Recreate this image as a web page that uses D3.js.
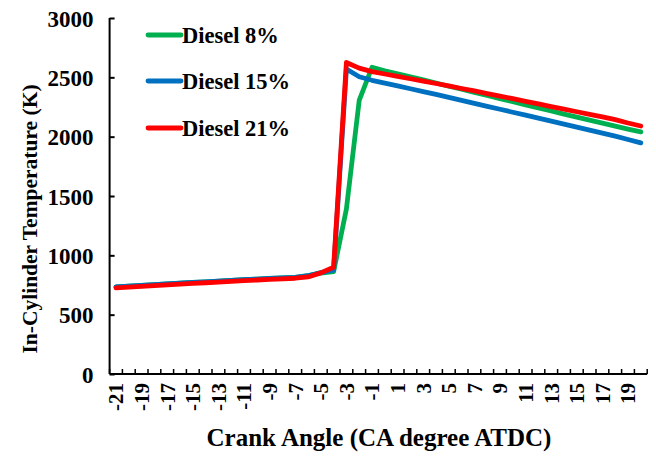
<!DOCTYPE html>
<html>
<head>
<meta charset="utf-8">
<script src="https://cdn.jsdelivr.net/npm/d3@7"></script>
<style>
body{margin:0;background:#fff;}
svg{display:block;}
text{font-family:"Liberation Serif","Times New Roman",serif;font-weight:bold;fill:#000;}
</style>
</head>
<body>
<svg id="chart" width="656" height="456"></svg>
<script>
const crankAngles = d3.range(-21, 21);
const yTicks = [0, 500, 1000, 1500, 2000, 2500, 3000];
const xTickLabels = [-21,-19,-17,-15,-13,-11,-9,-7,-5,-3,-1,1,3,5,7,9,11,13,15,17,19];
const seriesNames = ["Diesel 8%", "Diesel 15%", "Diesel 21%"];
const diesel8 = [735,741,747,753,759,765,771,777,783,789,795,800,805,810,815,830,850,862,1390,2305,2585,2555,2530,2505,2478,2452,2425,2400,2373,2347,2320,2295,2268,2242,2216,2190,2165,2140,2114,2089,2064,2040];
const diesel15 = [735,741,747,753,759,765,771,777,783,789,795,800,805,810,815,828,855,875,2570,2505,2475,2452,2428,2404,2380,2356,2331,2306,2281,2256,2231,2206,2181,2156,2131,2106,2080,2055,2030,2004,1976,1948];
const diesel21 = [725,732,739,745,751,757,763,769,775,781,787,792,797,802,807,818,852,900,2625,2578,2548,2528,2508,2488,2468,2448,2428,2406,2385,2363,2342,2320,2298,2276,2254,2232,2210,2188,2166,2143,2115,2090];
const colors = ["#00B050", "#0070C0", "#FF0000"];

const svg = d3.select("#chart");
const pLeft = 109.6, pRight = 647.2, pTop = 18, pBottom = 374;

const x = d3.scaleBand().domain(crankAngles).range([pLeft, pRight]);
const y = d3.scaleLinear().domain([0, 3000]).range([pBottom, pTop]);

// Y axis
const yAxis = svg.append("g").attr("transform", `translate(${pLeft},0)`)
  .call(d3.axisRight(y).tickValues(yTicks).tickSize(5).tickFormat(d3.format("d")));
yAxis.select(".domain").attr("stroke", "#000").attr("stroke-width", 2).attr("d", `M0,${pTop}V${pBottom}`);
yAxis.selectAll(".tick line").attr("stroke", "#000").attr("stroke-width", 2);
yAxis.selectAll(".tick text").attr("x", -16).attr("text-anchor", "end").attr("dy", "0.35em")
  .style("font-size", "23px");

// X axis
const xAxis = svg.append("g").attr("transform", `translate(0,${pBottom})`)
  .call(d3.axisBottom(x).tickValues(xTickLabels).tickSize(0));
xAxis.select(".domain").attr("stroke", "#000").attr("stroke-width", 2).attr("d", `M${pLeft},0H${pRight}`);
xAxis.selectAll(".tick text")
  .attr("transform", "rotate(-90)")
  .attr("x", -9).attr("y", 0).attr("dy", "0.35em")
  .attr("text-anchor", "end")
  .style("font-size", "21px");
// category boundary tick marks
const bounds = crankAngles.map(c => x(c)).concat([pRight]);
xAxis.selectAll(".bt").data(bounds).join("line").attr("class", "bt")
  .attr("x1", d => d).attr("x2", d => d).attr("y1", 0).attr("y2", -5)
  .attr("stroke", "#000").attr("stroke-width", 1.5);

// Lines
const line = d3.line().x((d, i) => x(crankAngles[i]) + x.bandwidth() / 2).y(d => y(d));
[diesel8, diesel15, diesel21].forEach((s, i) => {
  svg.append("path").datum(s).attr("d", line).attr("fill", "none")
    .attr("stroke", colors[i]).attr("stroke-width", 4.8)
    .attr("stroke-linejoin", "round").attr("stroke-linecap", "round");
});

// Legend
const legY = [35, 81, 128];
seriesNames.forEach((n, i) => {
  svg.append("line").attr("x1", 148).attr("x2", 181).attr("y1", legY[i]).attr("y2", legY[i])
    .attr("stroke", colors[i]).attr("stroke-width", 4.8).attr("stroke-linecap", "round");
  svg.append("text").attr("x", 182).attr("y", legY[i]).attr("dy", "0.35em")
    .style("font-size", "22.5px").text(n);
});

// Axis titles
svg.append("text").attr("transform", `translate(29,${(pTop + pBottom) / 2 + 23}) rotate(-90)`)
  .attr("text-anchor", "middle").attr("dy", "0.35em").style("font-size", "21.5px")
  .text("In-Cylinder Temperature (K)");
svg.append("text").attr("x", 379).attr("y", 446).attr("text-anchor", "middle")
  .style("font-size", "25px").text("Crank Angle (CA degree ATDC)");
</script>
</body>
</html>
